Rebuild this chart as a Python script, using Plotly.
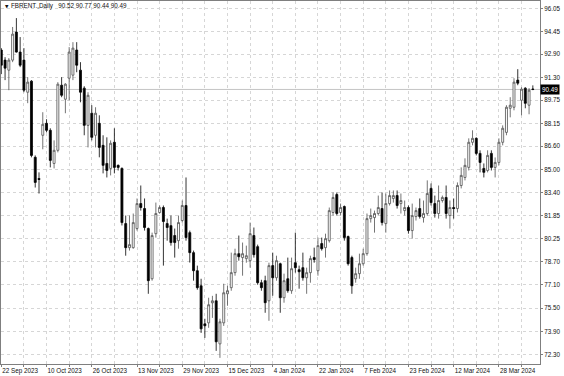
import plotly.graph_objects as go
import pandas as pd

# ---- data (FBRENT., Daily) ----
opens = [93.19, 92.50, 91.81, 92.50, 94.42, 93.05, 92.50, 90.30, 91.06, 85.84,
         84.39, 87.35, 88.17, 87.69, 85.42, 86.32, 90.78, 89.82, 91.26, 91.47,
         93.19, 91.81, 90.58, 88.03, 88.86, 87.35, 88.17, 86.66, 85.42, 85.08,
         86.87, 85.29, 85.08, 81.30, 79.65, 79.65, 80.96, 82.67, 82.33, 80.96,
         77.52, 80.61, 82.06, 82.40, 81.30, 81.16, 80.48, 80.13, 81.51, 82.54,
         80.68, 79.31, 78.07, 77.04, 74.43, 74.50, 75.87, 76.01, 73.06, 74.50,
         76.49, 76.91, 77.94, 79.24, 78.97, 78.90, 78.76, 80.48, 79.72, 77.25,
         77.39, 76.01, 78.42, 77.59, 78.55, 76.22, 77.52, 76.70, 78.62, 78.14,
         78.28, 77.59, 77.94, 78.97, 78.07, 79.93, 79.65, 80.13, 82.06, 83.29,
         82.06, 82.47, 80.41, 78.97, 77.52, 77.87, 78.55, 79.24, 81.64, 81.71,
         81.99, 82.33, 81.30, 82.67, 83.02, 83.22, 82.67, 82.19, 82.40, 80.82,
         81.78, 82.33, 81.71, 81.99, 83.71, 82.67, 81.99, 82.88, 83.09, 81.85,
         82.40, 82.33, 83.91, 84.46, 85.15, 86.87, 87.14, 86.11, 85.08, 84.94,
         86.11, 85.15, 85.49, 86.87, 87.55, 89.20, 89.27, 91.13, 89.75, 90.58,
         89.41, 90.52]
highs = [93.32, 92.70, 92.64, 94.77, 95.38, 94.08, 93.32, 91.33, 91.13, 85.97,
         84.81, 88.93, 88.45, 87.83, 87.00, 90.99, 91.33, 90.92, 93.39, 93.73,
         93.73, 92.36, 90.71, 90.30, 89.41, 89.27, 88.72, 87.35, 87.21, 87.00,
         87.83, 85.35, 85.15, 81.85, 81.85, 81.99, 83.02, 83.91, 83.02, 81.03,
         80.68, 82.74, 82.54, 82.54, 81.64, 81.85, 80.96, 81.85, 82.88, 84.46,
         80.82, 79.45, 78.42, 77.52, 74.78, 76.22, 76.35, 76.49, 74.78, 77.18,
         77.04, 79.31, 79.58, 80.48, 80.00, 79.79, 81.37, 81.03, 79.86, 77.45,
         77.73, 78.62, 79.31, 79.10, 78.62, 77.87, 78.97, 78.97, 80.68, 78.42,
         79.31, 78.28, 79.10, 79.65, 80.34, 80.34, 80.61, 82.40, 83.43, 83.43,
         82.67, 82.54, 80.48, 79.10, 78.28, 79.24, 79.58, 81.99, 82.33, 82.19,
         83.22, 83.43, 83.36, 83.57, 83.57, 83.57, 83.36, 82.88, 82.54, 82.67,
         82.40, 83.02, 82.88, 84.26, 84.05, 83.22, 83.91, 83.22, 83.91, 82.88,
         83.02, 84.12, 85.15, 85.77, 87.14, 87.69, 87.21, 86.32, 85.42, 86.32,
         86.32, 85.83, 87.14, 88.03, 89.41, 89.96, 91.26, 91.88, 90.64, 90.64,
         90.58, 90.77]
lows = [91.54, 91.13, 90.44, 92.36, 93.02, 92.02, 90.30, 89.55, 85.84, 83.77,
        83.36, 86.39, 87.55, 85.15, 85.08, 86.18, 89.96, 88.86, 89.75, 91.13,
        91.67, 89.61, 87.35, 86.52, 87.00, 86.52, 85.84, 84.74, 84.46, 84.60,
        84.74, 84.94, 81.17, 79.10, 79.45, 79.58, 80.82, 82.19, 80.82, 76.49,
        77.39, 80.34, 81.99, 78.42, 80.13, 79.79, 78.97, 79.58, 81.37, 80.13,
        78.63, 77.39, 76.77, 73.81, 73.47, 74.16, 74.84, 72.58, 72.10, 74.29,
        75.67, 76.70, 77.73, 78.76, 77.73, 78.62, 78.28, 78.97, 77.11, 76.70,
        75.19, 74.64, 76.36, 77.39, 75.19, 75.88, 76.56, 76.49, 77.94, 76.84,
        77.39, 76.49, 77.25, 78.62, 77.73, 79.45, 78.97, 80.00, 81.85, 81.85,
        81.85, 80.13, 78.42, 76.49, 77.25, 77.52, 78.42, 79.10, 81.37, 80.68,
        81.85, 81.17, 80.68, 82.54, 82.74, 82.33, 81.99, 81.85, 80.61, 80.27,
        81.51, 81.64, 81.37, 81.85, 82.54, 81.71, 81.64, 82.74, 81.64, 80.96,
        81.64, 82.06, 83.71, 84.26, 84.94, 86.66, 85.97, 84.81, 84.46, 84.81,
        84.94, 84.46, 85.29, 86.66, 87.35, 88.58, 89.06, 90.78, 88.72, 89.20,
        88.79, 90.44]
closes = [92.15, 91.95, 92.50, 94.28, 93.05, 92.15, 90.44, 90.99, 85.97, 84.12,
          84.32, 88.10, 87.69, 85.63, 86.32, 90.85, 90.09, 90.85, 93.05, 93.32,
          92.15, 90.30, 88.03, 90.09, 87.21, 88.86, 86.52, 85.29, 84.94, 86.80,
          85.15, 85.15, 81.37, 79.65, 79.86, 81.37, 82.67, 82.40, 81.03, 77.39,
          80.48, 81.99, 82.40, 81.44, 81.03, 80.00, 80.00, 81.37, 82.54, 80.34,
          79.31, 78.07, 76.91, 74.09, 74.30, 75.74, 76.01, 73.20, 74.57, 76.56,
          76.70, 77.94, 79.24, 79.03, 79.24, 79.10, 80.61, 79.17, 77.25, 76.91,
          75.88, 78.42, 77.59, 78.76, 76.22, 77.39, 76.70, 78.21, 78.28, 78.00,
          77.59, 77.94, 78.90, 78.83, 79.79, 79.58, 80.27, 82.19, 83.09, 81.99,
          82.40, 80.34, 78.55, 77.04, 77.87, 78.55, 79.24, 81.64, 81.85, 81.99,
          82.40, 81.37, 82.67, 83.22, 83.22, 82.54, 82.88, 82.40, 80.82, 81.85,
          82.19, 81.78, 81.99, 83.36, 82.74, 81.99, 82.88, 83.09, 81.99, 82.40,
          82.33, 83.91, 84.60, 85.29, 86.87, 87.14, 86.11, 85.49, 84.81, 85.97,
          85.15, 85.49, 86.87, 87.83, 89.27, 89.41, 90.99, 90.92, 90.51, 89.54,
          90.44, 90.49]

holidays = ["2023-12-25", "2024-01-01", "2024-03-29"]
dates = [d.strftime("%Y-%m-%d") for d in
         pd.bdate_range("2023-09-22", "2024-04-11") if d.strftime("%Y-%m-%d") not in holidays]
assert len(dates) == len(opens) == len(highs) == len(lows) == len(closes)

date_labels = ["22 Sep 2023", "10 Oct 2023", "26 Oct 2023", "13 Nov 2023",
               "29 Nov 2023", "15 Dec 2023", "4 Jan 2024", "22 Jan 2024",
               "7 Feb 2024", "23 Feb 2024", "12 Mar 2024", "28 Mar 2024"]
price_labels = ["72.30", "73.90", "75.50", "77.10", "78.70", "80.25", "81.85", "83.40",
                "85.00", "86.60", "88.15", "89.75", "91.30", "92.90", "94.45", "96.05"]
symbol = "FBRENT.,Daily"

# ---- figure ----
FONT = "Liberation Sans, Arial, sans-serif"
GRID = "#d6d6d6"
grid_vals = dates[::6]
grid_text = []
for k in range(len(grid_vals)):
    grid_text.append(date_labels[k // 2] if k % 2 == 0 and k // 2 < len(date_labels) else "")

fig = go.Figure(go.Candlestick(
    x=dates, open=opens, high=highs, low=lows, close=closes,
    increasing=dict(line=dict(color="#505050", width=0.8), fillcolor="#ffffff"),
    decreasing=dict(line=dict(color="#000000", width=0.8), fillcolor="#000000"),
    whiskerwidth=0, showlegend=False, hoverinfo="skip",
))

fig.update_layout(
    width=564, height=376,
    margin=dict(l=1, r=24, t=1, b=12),
    paper_bgcolor="white", plot_bgcolor="white",
    boxgap=0.25,
    font=dict(family=FONT, size=6, color="#111"),
    xaxis=dict(
        type="category", rangeslider=dict(visible=False),
        range=[-0.08, 142.9],
        tickmode="array", tickvals=grid_vals, ticktext=grid_text,
        ticklabelposition="outside right",
        showgrid=True, gridcolor=GRID, griddash="dot", gridwidth=1,
        showline=True, linecolor="#7f7f7f", linewidth=1, mirror=True,
        ticks="outside", ticklen=2, tickcolor="#7f7f7f",
        tickfont=dict(family=FONT, size=6.3, color="#111"),
        zeroline=False,
    ),
    yaxis=dict(
        side="right", range=[71.68, 96.55],
        tickmode="array", tickvals=[float(v) for v in price_labels], ticktext=price_labels,
        showgrid=True, gridcolor=GRID, griddash="dot", gridwidth=1,
        showline=True, linecolor="#7f7f7f", linewidth=1, mirror=True,
        ticks="outside", ticklen=2, tickcolor="#7f7f7f",
        tickfont=dict(family=FONT, size=6.3, color="#111"),
        zeroline=False,
    ),
)

last = closes[-1]
fig.add_shape(type="line", xref="paper", x0=0, x1=1, yref="y", y0=last, y1=last,
              line=dict(color="#c4c4c4", width=1), layer="below")

fig.add_annotation(xref="paper", x=1, xanchor="left", xshift=0, yref="y", y=last,
                   text=f"{last:.2f}", showarrow=False, bgcolor="#000000",
                   font=dict(family=FONT, size=6.3, color="#ffffff"), borderpad=1)

title = (f"{symbol}\u00a0\u00a0\u00a0{opens[-1]:.2f} {highs[-1]:.2f} "
         f"{lows[-1]:.2f} {closes[-1]:.2f}")
fig.add_annotation(xref="paper", x=0.004, xanchor="left", yref="paper", y=0.985,
                   yanchor="middle", text="\u25bc", showarrow=False,
                   font=dict(family="DejaVu Sans", size=4.5, color="#111"))
fig.add_annotation(xref="paper", x=0.0145, xanchor="left", yref="paper", y=0.985,
                   yanchor="middle", text=title, showarrow=False,
                   font=dict(family=FONT, size=6.3, color="#111"))

fig.write_html("out.html")
